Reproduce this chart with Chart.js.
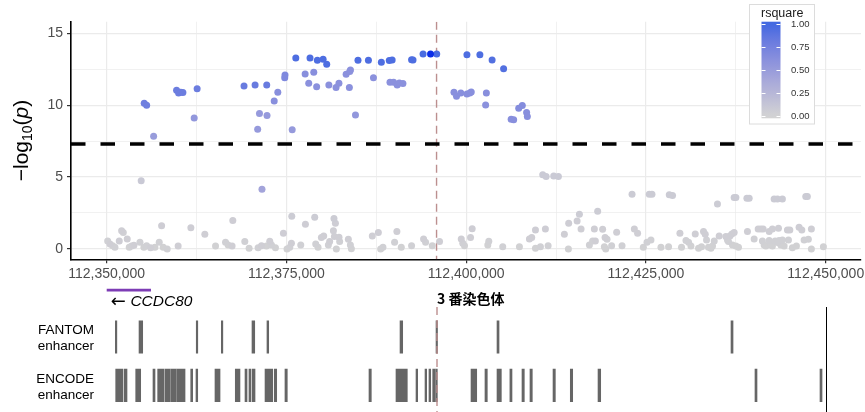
<!DOCTYPE html>
<html>
<head>
<meta charset="utf-8">
<title>CCDC80 regional association</title>
<script src="https://cdn.jsdelivr.net/npm/chart.js@4.4.1/dist/chart.umd.min.js"></script>
<style>
  body { margin: 0; background: #fff; }
  #wrap { position: relative; width: 865px; height: 412px; overflow: hidden; }
  canvas { position: absolute; left: 0; }
  #assoc { top: 0; }
  #tracks { top: 280px; }
</style>
</head>
<body>
<div id="wrap">
  <canvas id="assoc" width="865" height="285"></canvas>
  <canvas id="tracks" width="865" height="132"></canvas>
</div>
<script>
// SNPs with little or no LD to the lead variant
const bgPos = [
  112350140,112350460,112350830,112351150,112351750,112352080,112352310,112352860,
  112353140,112353470,112353790,112354630,112355180,112355560,112356110,112356710,
  112357310,112357640,112357860,112358420,112359940,112361710,112363650,112365140,
  112366530,112366890,112367440,112367540,112369210,112369810,112371060,112371530,
  112372220,112372680,112372920,112373470,112374580,112375080,112375460,112375690,
  112375740,112376990,112377640,112378930,112379070,112379390,112379860,112380180,
  112380830,112381010,112381610,112381810,112381530,112381670,112381940,112382310,
  112382400,112383610,112383890,112384030,112386940,112387780,112388100,112388420,
  112390040,112390360,112390970,112392400,112394070,112394350,112395280,112396290,
  112399310,112399520,112399760,112400600,112400830,112403140,112403000,112405080,
  112407400,112408790,112409110,112409630,112409630,112410320,112411010,112411390,
  112410640,112411110,112412170,112412820,112413650,112414210,112414250,112415420,
  112415740,112415970,112417130,112417580,112417960,112417820,112418970,112418280,
  112419310,112419580,112419210,112419400,112420220,112420920,112421670,112423060,
  112423380,112423830,112424630,112425140,112425690,112425460,112425830,112427080,
  112428140,112428240,112428690,112429720,112429940,112430560,112430920,112431250,
  112431850,112432310,112432720,112433000,112433240,112433420,112433690,112434030,
  112434250,112434490,112434940,112435180,112436110,112436330,112436670,112436940,
  112437260,112436470,112437030,112437500,112437860,112437260,112437500,112439110,
  112439030,112439350,112440040,112440600,112440970,112441290,112441190,112441430,
  112441670,112442130,112442580,112442130,112442360,112442580,112442960,112443280,
  112443510,112443750,112443970,112444210,112442820,112443280,112443970,112443420,
  112444670,112445000,112444810,112445360,112445920,112446290,112446670,112446990,
  112447580,112447220,112447440,112448000,112448000,112449670,112354800,112371600
];
const bgLogP = [
  0.56,0.35,0.23,0.12,0.56,1.27,1.14,0.70,
  0.12,0.21,0.26,0.47,0.12,0.23,0.09,0.12,
  0.47,1.62,0.12,0.00,0.21,1.48,1.02,0.21,
  0.47,0.28,0.21,1.97,0.51,0.05,0.09,0.23,
  0.21,0.53,0.28,0.09,1.09,0.00,0.12,0.40,
  2.27,0.28,1.72,2.20,0.35,0.12,0.79,0.90,
  0.28,0.51,2.11,1.79,1.27,0.86,0.00,0.81,
  0.51,0.67,0.28,0.02,0.90,1.14,0.00,0.12,
  0.47,1.21,0.12,0.23,0.70,0.47,0.23,0.51,
  0.70,0.40,0.23,0.79,1.41,0.53,0.28,0.16,
  0.16,0.70,0.79,1.32,0.05,0.16,1.39,0.23,
  5.15,5.03,5.08,5.03,1.02,0.00,1.79,1.95,
  2.41,1.39,0.28,0.56,0.56,1.39,1.37,2.62,
  0.79,0.67,0.16,0.00,0.23,1.16,0.23,3.80,
  1.39,1.09,0.12,0.47,0.63,3.80,3.80,0.12,
  0.16,3.76,3.71,1.09,0.12,0.58,0.47,0.21,
  1.04,0.05,0.16,1.21,1.02,0.63,0.12,0.05,
  0.21,0.56,3.13,0.90,0.86,0.63,0.90,1.04,
  1.14,0.51,0.28,0.21,0.12,3.57,3.57,1.21,
  3.52,3.52,0.70,1.39,1.39,1.39,0.56,0.28,
  0.21,1.21,1.39,0.58,0.28,0.21,0.56,0.44,
  0.58,0.28,0.63,0.21,3.48,3.48,3.48,1.44,
  1.32,1.32,0.63,0.09,0.21,1.51,1.32,0.63,
  0.67,3.64,3.64,1.39,0.00,0.16,4.75,4.15
];
const bgR2 = [
  0.03,0.04,0.02,0.03,0.05,0.04,0.03,0.04,
  0.02,0.03,0.04,0.03,0.02,0.03,0.04,0.02,
  0.03,0.05,0.02,0.03,0.04,0.05,0.04,0.02,
  0.03,0.02,0.04,0.05,0.03,0.02,0.03,0.04,
  0.02,0.04,0.03,0.02,0.05,0.02,0.03,0.04,
  0.06,0.03,0.05,0.06,0.03,0.02,0.04,0.04,
  0.03,0.04,0.06,0.05,0.04,0.04,0.02,0.04,
  0.03,0.04,0.03,0.02,0.04,0.05,0.02,0.03,
  0.03,0.04,0.02,0.03,0.04,0.03,0.02,0.04,
  0.04,0.03,0.02,0.04,0.05,0.03,0.02,0.03,
  0.02,0.04,0.04,0.05,0.02,0.03,0.05,0.03,
  0.08,0.08,0.08,0.08,0.04,0.02,0.05,0.05,
  0.06,0.04,0.03,0.03,0.04,0.04,0.04,0.06,
  0.04,0.03,0.02,0.02,0.03,0.04,0.03,0.07,
  0.04,0.04,0.02,0.03,0.03,0.07,0.07,0.02,
  0.02,0.07,0.07,0.04,0.02,0.03,0.03,0.02,
  0.04,0.02,0.02,0.04,0.04,0.03,0.02,0.02,
  0.02,0.03,0.06,0.04,0.04,0.03,0.04,0.04,
  0.04,0.03,0.02,0.02,0.02,0.07,0.07,0.04,
  0.07,0.07,0.03,0.04,0.04,0.04,0.03,0.02,
  0.02,0.04,0.04,0.03,0.02,0.02,0.03,0.03,
  0.03,0.02,0.03,0.02,0.07,0.07,0.07,0.04,
  0.04,0.04,0.03,0.02,0.02,0.05,0.04,0.03,
  0.03,0.07,0.07,0.04,0.02,0.02,0.09,0.42
];

// SNPs in LD with the lead variant
const ldPos = [
  112355220,112355560,112356530,112359720,112360000,112360300,112360600,112362580,
  112362170,112369100,112370640,112372260,112374800,112374760,112373800,112373300,
  112371250,112372300,112371000,112375800,112376300,112378280,112379300,112377600,
  112378800,112378100,112379200,112380100,112380600,112384950,112386400,112388200,
  112389300,112389700,112392400,112392600,112394000,112395900,112400100,112401900,
  112403600,112405200,112380900,112381900,112382300,112383300,112383800,112383900,
  112383750,112384600,112387100,112389400,112389900,112390400,112390700,112391200,
  112398300,112398650,112399250,112400100,112400500,112400700,112402800,112402700,
  112406250,112406600,112407300,112407800,112408400,112408500
];
const ldLogP = [
  10.13,9.99,7.84,11.04,10.85,10.90,10.88,11.13,
  9.11,11.33,11.40,11.40,12.10,11.91,10.90,10.29,
  9.41,9.27,8.32,8.28,13.28,13.28,13.12,12.17,
  12.29,11.52,11.27,13.19,12.84,13.12,13.12,12.98,
  13.10,13.14,13.16,13.14,13.56,13.56,13.51,13.51,
  13.14,12.52,11.40,11.22,11.52,12.15,12.33,12.45,
  11.22,9.32,11.91,11.59,11.59,11.40,11.54,11.50,
  10.90,10.62,10.85,10.78,10.85,10.92,10.85,10.01,
  9.02,8.99,9.78,9.97,9.48,9.20
];
const ldR2 = [
  0.78,0.78,0.50,0.80,0.80,0.80,0.80,0.80,
  0.55,0.82,0.82,0.82,0.68,0.68,0.62,0.62,
  0.52,0.52,0.52,0.52,0.95,0.95,0.95,0.62,
  0.62,0.60,0.60,0.95,0.95,0.95,0.95,0.95,
  0.95,0.95,0.95,0.95,0.97,0.97,0.95,0.95,
  0.93,0.93,0.60,0.60,0.60,0.60,0.60,0.60,
  0.60,0.55,0.60,0.60,0.60,0.60,0.60,0.60,
  0.62,0.62,0.62,0.62,0.62,0.62,0.62,0.60,
  0.62,0.62,0.65,0.65,0.62,0.62
];

const leadPos = 112395040;
const leadLogP = 13.56;
const markerPos = 112395875;     // dashed guide through all panels
const gwsLine = 7.3;             // -log10(5e-8)

const xTicks = [112350000, 112375000, 112400000, 112425000, 112450000];
const xMinor = [112362500, 112387500, 112412500, 112437500];
const yTicks = [0, 5, 10, 15];
const legendTicks = [0, 0.25, 0.5, 0.75, 1];

const gene = { name: 'CCDC80', start: 112350000, end: 112356150, strand: '-' };
const chromLabel = '3 番染色体';

const fantom = [
  [112351200,112351400],[112354490,112355000],[112362440,112362540],[112365920,112366100],
  [112370180,112370560],[112372260,112372500],[112390740,112391110],[112395740,112395920],
  [112404210,112404490],[112436710,112436990]
];
const encode = [
  [112351250,112352260],[112352440,112352820],[112354030,112354720],[112356430,112356710],
  [112357080,112357960],[112358100,112358330],[112358420,112358790],[112358890,112359630],
  [112359720,112360880],[112361670,112361940],[112362400,112362640],[112365040,112365740],
  [112367860,112368510],[112369210,112369490],[112369760,112370040],[112370220,112370600],
  [112371990,112373060],[112373280,112373610],[112374760,112375080],[112386430,112386750],
  [112390180,112391750],[112392960,112393190],[112394210,112394440],[112394760,112395000],
  [112395280,112395600],[112395690,112395920],[112400600,112401390],[112402540,112402860],
  [112404210,112404810],[112406000,112406290],[112407680,112408000],[112408790,112409110],
  [112411990,112412310],[112414390,112414720],[112418240,112418610],[112440040,112440320],
  [112449070,112449350]
];

Chart.defaults.font.family = '"Liberation Sans", Arial, Helvetica, sans-serif';

// colour ramp lightgrey -> royalblue, interpolated in CIELAB
function toLab([r, g, b]) {
  const lin = c => { c /= 255; return c <= 0.04045 ? c / 12.92 : Math.pow((c + 0.055) / 1.055, 2.4); };
  const R = lin(r), G = lin(g), B = lin(b);
  const X = (0.4124 * R + 0.3576 * G + 0.1805 * B) / 0.95047;
  const Y = 0.2126 * R + 0.7152 * G + 0.0722 * B;
  const Z = (0.0193 * R + 0.1192 * G + 0.9505 * B) / 1.08883;
  const f = t => t > 0.008856 ? Math.cbrt(t) : 7.787 * t + 16 / 116;
  return [116 * f(Y) - 16, 500 * (f(X) - f(Y)), 200 * (f(Y) - f(Z))];
}
function fromLab([L, a, b]) {
  const fy = (L + 16) / 116, fx = fy + a / 500, fz = fy - b / 200;
  const inv = t => t > 0.206893 ? t * t * t : (t - 16 / 116) / 7.787;
  const X = inv(fx) * 0.95047, Y = inv(fy), Z = inv(fz) * 1.08883;
  const gam = c => {
    c = c <= 0.0031308 ? 12.92 * c : 1.055 * Math.pow(c, 1 / 2.4) - 0.055;
    return Math.round(Math.max(0, Math.min(1, c)) * 255);
  };
  return [gam(3.2406 * X - 1.5372 * Y - 0.4986 * Z),
          gam(-0.9689 * X + 1.8758 * Y + 0.0415 * Z),
          gam(0.0557 * X - 0.2040 * Y + 1.0570 * Z)];
}
const labLo = toLab([211, 211, 211]);
const labHi = toLab([65, 105, 225]);
function r2Colour(v) {
  const t = Math.max(0, Math.min(1, v));
  const c = fromLab(labLo.map((l, i) => l + (labHi[i] - l) * t));
  return 'rgb(' + c.join(',') + ')';
}

const snps = bgPos.map((x, i) => ({ x, y: bgLogP[i], r2: bgR2[i] }))
  .concat(ldPos.map((x, i) => ({ x, y: ldLogP[i], r2: ldR2[i] })))
  .sort((a, b) => a.r2 - b.r2);

const X_MIN = 112345040, X_MAX = 112454900;
const Y_MIN = -0.72, Y_MAX = 15.8;
const isMajorX = v => xTicks.includes(v);

// y title with subscript and italic p
const yTitle = {
  id: 'yTitle',
  afterDraw(chart) {
    const { ctx, chartArea } = chart;
    const fam = '"Liberation Sans", Arial, sans-serif';
    const parts = [
      { t: '\u2212log', f: '21px ' + fam, dy: 0 },
      { t: '10', f: '14px ' + fam, dy: 4 },
      { t: '(', f: '21px ' + fam, dy: 0 },
      { t: 'p', f: 'italic 21px ' + fam, dy: 0 },
      { t: ')', f: '21px ' + fam, dy: 0 }
    ];
    ctx.save();
    let total = 0;
    parts.forEach(p => { ctx.font = p.f; p.w = ctx.measureText(p.t).width; total += p.w; });
    ctx.translate(28, (chartArea.top + chartArea.bottom) / 2);
    ctx.rotate(-Math.PI / 2);
    ctx.fillStyle = '#000';
    ctx.textBaseline = 'alphabetic';
    let x = -total / 2;
    parts.forEach(p => { ctx.font = p.f; ctx.fillText(p.t, x, p.dy); x += p.w; });
    ctx.restore();
  }
};

// rsquare colour bar
const r2Legend = {
  id: 'r2Legend',
  afterDraw(chart) {
    const ctx = chart.ctx;
    const box = { x: 749.5, y: 4.5, w: 65, h: 119.5 };
    const bar = { x: 761.5, top: 21.7, bottom: 118.3, w: 19 };
    const v2y = v => 116 - v * 91.7;
    ctx.save();
    ctx.fillStyle = '#fff';
    ctx.fillRect(box.x, box.y, box.w, box.h);
    ctx.strokeStyle = '#dcdcdc';
    ctx.lineWidth = 1;
    ctx.strokeRect(box.x, box.y, box.w, box.h);
    const grad = ctx.createLinearGradient(0, bar.bottom, 0, bar.top);
    for (let i = 0; i <= 20; i++) {
      const y = bar.bottom - (bar.bottom - bar.top) * i / 20;
      grad.addColorStop(i / 20, r2Colour((116 - y) / 91.7));
    }
    ctx.fillStyle = grad;
    ctx.fillRect(bar.x, bar.top, bar.w, bar.bottom - bar.top);
    ctx.strokeStyle = '#fff';
    legendTicks.forEach(v => {
      const y = Math.round(v2y(v)) + 0.5;
      ctx.beginPath();
      ctx.moveTo(bar.x, y); ctx.lineTo(bar.x + 4, y);
      ctx.moveTo(bar.x + bar.w - 4, y); ctx.lineTo(bar.x + bar.w, y);
      ctx.stroke();
    });
    ctx.fillStyle = '#1a1a1a';
    ctx.textBaseline = 'middle';
    ctx.font = '12.5px "Liberation Sans", Arial, sans-serif';
    ctx.fillText('rsquare', 761, 13.5);
    ctx.fillStyle = '#333';
    ctx.font = '9.5px "Liberation Sans", Arial, sans-serif';
    legendTicks.forEach(v => ctx.fillText(v.toFixed(2), 791, v2y(v)));
    ctx.restore();
  }
};

new Chart(document.getElementById('assoc'), {
  type: 'scatter',
  data: {
    datasets: [
      {
        label: 'lead',
        data: [{ x: leadPos, y: leadLogP }],
        backgroundColor: '#0b2ee8',
        pointRadius: 3.5,
        borderWidth: 0,
        order: -1
      },
      {
        label: 'snps',
        data: snps,
        backgroundColor: ctx => r2Colour(ctx.raw ? ctx.raw.r2 : 0),
        pointRadius: 3.5,
        borderWidth: 0,
        order: 0
      },
      {
        type: 'line',
        label: 'marker',
        data: [{ x: markerPos, y: Y_MAX }, { x: markerPos, y: Y_MIN }],
        borderColor: '#bc8f8f',
        borderWidth: 1.4,
        borderDash: [8, 5],
        pointRadius: 0,
        order: 5
      },
      {
        type: 'line',
        label: 'gws',
        data: [{ x: X_MIN, y: gwsLine }, { x: X_MAX, y: gwsLine }],
        borderColor: '#000',
        borderWidth: 3.6,
        borderDash: [14.5, 15],
        pointRadius: 0,
        order: 4
      }
    ]
  },
  options: {
    responsive: false,
    animation: false,
    devicePixelRatio: 1,
    layout: { padding: { top: 21.7, right: 3, left: 0, bottom: 0 } },
    plugins: { legend: { display: false }, tooltip: { enabled: false } },
    scales: {
      x: {
        type: 'linear',
        min: X_MIN,
        max: X_MAX,
        afterBuildTicks: s => {
          s.ticks = xTicks.concat(xMinor).sort((a, b) => a - b).map(v => ({ value: v }));
        },
        afterFit: s => { s.height = 25.7; s.paddingLeft = 0; s.paddingRight = 0; },
        border: { display: true, color: '#000', width: 1.6 },
        grid: {
          color: '#ebebeb',
          lineWidth: c => (isMajorX(c.tick.value) ? 1.2 : 0.7),
          tickColor: c => (isMajorX(c.tick.value) ? '#333' : 'rgba(0,0,0,0)'),
          tickLength: 4
        },
        ticks: {
          autoSkip: false,
          maxRotation: 0,
          padding: 2,
          color: '#4d4d4d',
          font: { size: 14 },
          callback: v => (isMajorX(v) ? v.toLocaleString('en-US') : '')
        }
      },
      y: {
        min: Y_MIN,
        max: Y_MAX,
        afterFit: s => { s.width = 71; },
        border: { display: true, color: '#000', width: 1.6 },
        grid: {
          color: '#ebebeb',
          lineWidth: c => (yTicks.includes(c.tick.value) ? 1.2 : 0.7),
          tickColor: c => (yTicks.includes(c.tick.value) ? '#333' : 'rgba(0,0,0,0)'),
          tickLength: 4
        },
        ticks: {
          stepSize: 2.5,
          includeBounds: false,
          padding: 4,
          color: '#4d4d4d',
          font: { size: 14 },
          callback: v => (yTicks.includes(v) ? String(v) : '')
        }
      }
    }
  },
  plugins: [yTitle, r2Legend]
});

// gene and enhancer tracks share the genomic axis
const ROW_ENCODE = 0, ROW_FANTOM = 1, ROW_GENE = 1.97;
const trackNames = [
  { row: ROW_FANTOM, lines: ['FANTOM', 'enhancer'] },
  { row: ROW_ENCODE, lines: ['ENCODE', 'enhancer'] }
];

const trackText = {
  id: 'trackText',
  afterDraw(chart) {
    const { ctx, chartArea } = chart;
    const xs = chart.scales.x, ys = chart.scales.y;
    ctx.save();
    ctx.fillStyle = '#000';
    ctx.textBaseline = 'middle';
    ctx.font = '13.5px "Liberation Sans", Arial, sans-serif';
    ctx.textAlign = 'right';
    trackNames.forEach(t => {
      const cy = ys.getPixelForValue(t.row);
      ctx.fillText(t.lines[0], chartArea.left - 12.7, cy - 6.5);
      ctx.fillText(t.lines[1], chartArea.left - 12.7, cy + 9.5);
    });
    ctx.textAlign = 'left';
    // strand arrow then gene symbol
    const gx = xs.getPixelForValue(gene.start) + 4;
    if (gene.strand === '-') {
      ctx.font = '18px "DejaVu Sans", sans-serif';
      ctx.fillText('\u2190', gx, 22);
    }
    ctx.font = 'italic 15.5px "Liberation Sans", Arial, sans-serif';
    ctx.fillText(gene.name, gx + 19.7, 22);
    ctx.font = 'bold 14px "Noto Sans CJK JP", sans-serif';
    ctx.fillText(chromLabel, xs.getPixelForValue(markerPos), 19);
    ctx.restore();
  }
};

const barStyle = {
  backgroundColor: '#666666',
  borderWidth: 0,
  barThickness: 32.5,
  minBarLength: 1.5,
  grouped: false
};

new Chart(document.getElementById('tracks'), {
  type: 'bar',
  data: {
    datasets: [
      Object.assign({ label: 'FANTOM', data: fantom.map(r => ({ x: r, y: ROW_FANTOM })) }, barStyle),
      Object.assign({ label: 'ENCODE', data: encode.map(r => ({ x: r, y: ROW_ENCODE })) }, barStyle),
      {
        type: 'line',
        label: gene.name,
        data: [{ x: gene.start, y: ROW_GENE }, { x: gene.end, y: ROW_GENE }],
        borderColor: '#7d3cb5',
        borderWidth: 2.8,
        pointRadius: 0,
        clip: false
      },
      {
        type: 'line',
        label: 'marker',
        data: [{ x: markerPos, y: 1.62 }, { x: markerPos, y: -0.55 }],
        borderColor: '#bc8f8f',
        borderWidth: 1.4,
        borderDash: [8, 5],
        pointRadius: 0,
        order: -1
      }
    ]
  },
  options: {
    indexAxis: 'y',
    responsive: false,
    animation: false,
    devicePixelRatio: 1,
    layout: { padding: { top: 27, right: 38.3, left: 106.7, bottom: 0 } },
    plugins: { legend: { display: false }, tooltip: { enabled: false } },
    scales: {
      x: { type: 'linear', min: 112350000, max: 112450000, display: false },
      y: { type: 'linear', min: -0.55, max: 1.62, offset: false, display: false },
      yEdge: {
        type: 'linear',
        position: 'right',
        display: true,
        afterFit: s => { s.width = 0; },
        border: { display: true, color: '#000', width: 1 },
        grid: { display: false, drawTicks: false },
        ticks: { display: false }
      }
    }
  },
  plugins: [trackText]
});
</script>
</body>
</html>
